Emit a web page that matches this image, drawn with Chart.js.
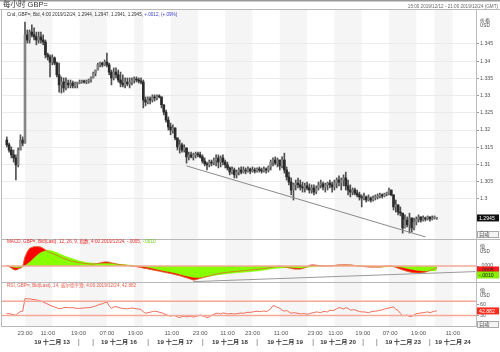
<!DOCTYPE html>
<html><head><meta charset="utf-8">
<script src="https://cdn.jsdelivr.net/npm/chart.js@4.4.1/dist/chart.umd.min.js"></script>
<style>html,body{margin:0;padding:0;background:#fff;overflow:hidden}canvas{display:block}</style>
</head><body>
<canvas id="c" width="500" height="352"></canvas>
<script>
// ---- data (hourly bars, GBP=) ----
const openP = [1.3171,1.3157,1.3142,1.3128,1.3119,1.3099,1.3142,1.3171,1.3162,1.3476,
1.3461,1.3484,1.3476,1.3470,1.3461,1.3470,1.3461,1.3455,1.3418,1.3412,
1.3397,1.3409,1.3394,1.3360,1.3331,1.3339,1.3322,1.3336,1.3331,1.3336,
1.3328,1.3334,1.3336,1.3339,1.3342,1.3339,1.3342,1.3345,1.3351,1.3365,
1.3374,1.3389,1.3394,1.3389,1.3397,1.3389,1.3368,1.3351,1.3368,1.3360,
1.3345,1.3336,1.3331,1.3339,1.3334,1.3339,1.3345,1.3348,1.3345,1.3342,
1.3339,1.3287,1.3281,1.3290,1.3287,1.3296,1.3293,1.3299,1.3296,1.3273,
1.3252,1.3229,1.3209,1.3200,1.3206,1.3177,1.3151,1.3157,1.3142,1.3148,
1.3122,1.3128,1.3122,1.3128,1.3131,1.3128,1.3122,1.3110,1.3102,1.3099,
1.3107,1.3104,1.3113,1.3119,1.3107,1.3119,1.3107,1.3099,1.3090,1.3078,
1.3084,1.3070,1.3078,1.3084,1.3078,1.3084,1.3081,1.3087,1.3081,1.3084,
1.3081,1.3087,1.3084,1.3081,1.3087,1.3084,1.3093,1.3107,1.3113,1.3104,
1.3113,1.3096,1.3113,1.3084,1.3064,1.3049,1.3026,1.3041,1.3046,1.3041,
1.3035,1.3032,1.3038,1.3032,1.3026,1.3032,1.3020,1.3032,1.3041,1.3044,
1.3035,1.3041,1.3046,1.3041,1.3035,1.3046,1.3055,1.3049,1.3055,1.3061,
1.3038,1.3026,1.3020,1.3026,1.3017,1.3012,1.3006,1.3003,1.3006,1.2997,
1.3003,1.2997,1.3003,1.3006,1.3009,1.3012,1.3009,1.3015,1.3017,1.3026,
1.3012,1.2977,1.2983,1.2962,1.2959,1.2916,1.2939,1.2925,1.2945,1.2916,
1.2933,1.2942,1.2948,1.2939,1.2945,1.2942,1.2948,1.2942,1.2945,1.2944];
const highP = [1.3180,1.3162,1.3151,1.3142,1.3128,1.3148,1.3186,1.3180,1.3513,1.3490,
1.3490,1.3505,1.3496,1.3484,1.3484,1.3484,1.3476,1.3461,1.3423,1.3418,
1.3418,1.3412,1.3397,1.3394,1.3354,1.3351,1.3351,1.3345,1.3345,1.3342,
1.3339,1.3339,1.3345,1.3345,1.3345,1.3345,1.3348,1.3354,1.3368,1.3374,
1.3394,1.3397,1.3397,1.3403,1.3423,1.3394,1.3374,1.3380,1.3380,1.3374,
1.3368,1.3360,1.3351,1.3351,1.3351,1.3351,1.3354,1.3354,1.3351,1.3351,
1.3345,1.3296,1.3296,1.3296,1.3302,1.3302,1.3302,1.3302,1.3296,1.3273,
1.3258,1.3238,1.3220,1.3215,1.3206,1.3177,1.3171,1.3162,1.3157,1.3148,
1.3136,1.3136,1.3133,1.3136,1.3136,1.3136,1.3128,1.3119,1.3107,1.3113,
1.3113,1.3119,1.3128,1.3128,1.3125,1.3128,1.3113,1.3107,1.3093,1.3093,
1.3090,1.3084,1.3090,1.3093,1.3093,1.3090,1.3093,1.3090,1.3093,1.3090,
1.3090,1.3093,1.3090,1.3093,1.3090,1.3096,1.3113,1.3119,1.3122,1.3119,
1.3113,1.3122,1.3133,1.3093,1.3078,1.3061,1.3046,1.3055,1.3061,1.3055,
1.3049,1.3046,1.3049,1.3044,1.3041,1.3041,1.3038,1.3049,1.3055,1.3049,
1.3046,1.3049,1.3055,1.3049,1.3055,1.3061,1.3067,1.3061,1.3070,1.3078,
1.3055,1.3041,1.3032,1.3032,1.3026,1.3020,1.3012,1.3017,1.3009,1.3012,
1.3006,1.3009,1.3012,1.3015,1.3017,1.3015,1.3017,1.3020,1.3032,1.3026,
1.3012,1.2997,1.2983,1.2977,1.2959,1.2954,1.2948,1.2959,1.2945,1.2945,
1.2948,1.2954,1.2948,1.2951,1.2948,1.2951,1.2948,1.2951,1.2951,1.2947];
const lowP = [1.3151,1.3136,1.3119,1.3107,1.3055,1.3093,1.3142,1.3154,1.3162,1.3452,
1.3452,1.3470,1.3461,1.3447,1.3452,1.3452,1.3447,1.3409,1.3403,1.3354,
1.3389,1.3389,1.3354,1.3310,1.3307,1.3310,1.3316,1.3322,1.3322,1.3322,
1.3322,1.3322,1.3334,1.3336,1.3336,1.3334,1.3336,1.3339,1.3351,1.3357,
1.3374,1.3383,1.3383,1.3386,1.3383,1.3360,1.3331,1.3345,1.3351,1.3339,
1.3325,1.3325,1.3322,1.3328,1.3322,1.3331,1.3336,1.3339,1.3336,1.3334,
1.3264,1.3270,1.3276,1.3276,1.3281,1.3284,1.3287,1.3293,1.3264,1.3244,
1.3223,1.3200,1.3186,1.3191,1.3171,1.3142,1.3133,1.3136,1.3136,1.3104,
1.3113,1.3119,1.3113,1.3119,1.3122,1.3119,1.3104,1.3096,1.3084,1.3093,
1.3096,1.3099,1.3096,1.3090,1.3093,1.3099,1.3090,1.3084,1.3070,1.3073,
1.3061,1.3061,1.3070,1.3073,1.3075,1.3073,1.3078,1.3073,1.3078,1.3075,
1.3078,1.3078,1.3075,1.3078,1.3075,1.3078,1.3084,1.3096,1.3099,1.3093,
1.3084,1.3090,1.3075,1.3055,1.3041,1.3012,1.2997,1.3026,1.3032,1.3026,
1.3020,1.3020,1.3026,1.3017,1.3017,1.3012,1.3015,1.3026,1.3032,1.3026,
1.3020,1.3026,1.3032,1.3020,1.3026,1.3032,1.3038,1.3026,1.3038,1.3026,
1.3012,1.3006,1.3012,1.3012,1.3006,1.2997,1.2977,1.2997,1.2991,1.2994,
1.2991,1.2994,1.2997,1.3000,1.3003,1.3003,1.3006,1.3009,1.3012,1.3009,
1.2968,1.2962,1.2954,1.2951,1.2901,1.2916,1.2919,1.2901,1.2904,1.2910,
1.2925,1.2933,1.2933,1.2936,1.2936,1.2939,1.2936,1.2939,1.2942,1.2941];
const closeP = [1.3157,1.3142,1.3128,1.3119,1.3099,1.3142,1.3171,1.3162,1.3476,1.3461,
1.3484,1.3476,1.3470,1.3461,1.3470,1.3461,1.3455,1.3418,1.3412,1.3397,
1.3409,1.3394,1.3360,1.3331,1.3339,1.3322,1.3336,1.3331,1.3336,1.3328,
1.3334,1.3336,1.3339,1.3342,1.3339,1.3342,1.3345,1.3351,1.3365,1.3374,
1.3389,1.3394,1.3389,1.3397,1.3389,1.3368,1.3351,1.3368,1.3360,1.3345,
1.3336,1.3331,1.3339,1.3334,1.3339,1.3345,1.3348,1.3345,1.3342,1.3339,
1.3287,1.3281,1.3290,1.3287,1.3296,1.3293,1.3299,1.3296,1.3273,1.3252,
1.3229,1.3209,1.3200,1.3206,1.3177,1.3151,1.3157,1.3142,1.3148,1.3122,
1.3128,1.3122,1.3128,1.3131,1.3128,1.3122,1.3110,1.3102,1.3099,1.3107,
1.3104,1.3113,1.3119,1.3107,1.3119,1.3107,1.3099,1.3090,1.3078,1.3084,
1.3070,1.3078,1.3084,1.3078,1.3084,1.3081,1.3087,1.3081,1.3084,1.3081,
1.3087,1.3084,1.3081,1.3087,1.3084,1.3093,1.3107,1.3113,1.3104,1.3113,
1.3096,1.3113,1.3084,1.3064,1.3049,1.3026,1.3041,1.3046,1.3041,1.3035,
1.3032,1.3038,1.3032,1.3026,1.3032,1.3020,1.3032,1.3041,1.3044,1.3035,
1.3041,1.3046,1.3041,1.3035,1.3046,1.3055,1.3049,1.3055,1.3061,1.3038,
1.3026,1.3020,1.3026,1.3017,1.3012,1.3006,1.3003,1.3006,1.2997,1.3003,
1.2997,1.3003,1.3006,1.3009,1.3012,1.3009,1.3015,1.3017,1.3026,1.3012,
1.2977,1.2983,1.2962,1.2959,1.2916,1.2939,1.2925,1.2945,1.2916,1.2933,
1.2942,1.2948,1.2939,1.2945,1.2942,1.2948,1.2942,1.2945,1.2948,1.2945];
const macdV = [0.00025,-0.00025,-0.001,-0.00175,-0.002,-0.0015,-0.001,-0.00025,0.0045,0.007,
0.00875,0.00925,0.0096,0.00965,0.0096,0.0094,0.00875,0.008,0.00725,0.00665,
0.0062,0.0058,0.00535,0.00485,0.0043,0.00385,0.0034,0.003,0.0026,0.00235,
0.0021,0.00185,0.00165,0.0015,0.00135,0.0012,0.00105,0.001,0.001,0.0011,
0.00125,0.0015,0.0018,0.00195,0.002,0.00185,0.00155,0.0013,0.00105,0.0008,
0.00065,0.0005,0.0004,0.0003,0.0002,0.00005,-0.00015,-0.0003,-0.0005,-0.00075,
-0.001,-0.0012,-0.0014,-0.00165,-0.0019,-0.0021,-0.00235,-0.00255,-0.0028,-0.003,
-0.00325,-0.0035,-0.0037,-0.00395,-0.00425,-0.00455,-0.0048,-0.00515,-0.0055,-0.00585,
-0.0062,-0.0066,-0.007,-0.0068,-0.0065,-0.00615,-0.00585,-0.00555,-0.00525,-0.00495,
-0.00465,-0.00435,-0.0041,-0.00385,-0.0036,-0.00345,-0.0033,-0.00315,-0.003,-0.0029,
-0.0028,-0.00265,-0.00255,-0.00245,-0.00235,-0.0022,-0.0021,-0.002,-0.0019,-0.00175,
-0.00165,-0.00155,-0.0014,-0.00125,-0.0011,-0.00095,-0.00075,-0.0005,-0.0003,-0.00015,
-0.00015,-0.0003,-0.0004,-0.00065,-0.0009,-0.00115,-0.0014,-0.0015,-0.0015,-0.0015,
-0.00125,-0.00085,-0.00025,0.00025,0.0005,0.0005,0.00035,0.00025,0.00025,0.00015,
0.00005,0,0,0.0001,0.00025,0.0004,0.0005,0.0005,0.00055,0.00055,
0.0005,0.0005,0.00035,0.00025,0.0001,0,-0.00015,-0.00025,-0.00035,-0.00045,
-0.0005,-0.0005,-0.0005,-0.0005,-0.0005,-0.0004,-0.00025,-0.0001,0,0,
-0.00025,-0.00065,-0.0011,-0.0015,-0.0019,-0.00225,-0.0026,-0.0029,-0.00315,-0.0033,
-0.0034,-0.00345,-0.0034,-0.0032,-0.003,-0.00265,-0.0022,-0.0018,-0.0014,-0.001];
const signalV = [0.0001,-0.00015,-0.0004,-0.0006,-0.00075,-0.0007,-0.0006,-0.0005,0,0.001,
0.00185,0.00285,0.004,0.005,0.006,0.0067,0.0072,0.0076,0.0079,0.0078,
0.0075,0.0071,0.0067,0.0062,0.0057,0.0052,0.00475,0.00435,0.004,0.0036,
0.0032,0.00285,0.0025,0.00225,0.002,0.0018,0.0016,0.0015,0.0014,0.0013,
0.00125,0.0012,0.0012,0.00125,0.0013,0.0013,0.0012,0.0011,0.001,0.0009,
0.0008,0.00075,0.00065,0.00055,0.00045,0.0003,0.0002,0.0001,0,-0.0001,
-0.00025,-0.00045,-0.00065,-0.00085,-0.0011,-0.0014,-0.00165,-0.0019,-0.00215,-0.00235,
-0.0026,-0.0028,-0.003,-0.00325,-0.0035,-0.00375,-0.0041,-0.0044,-0.0047,-0.00495,
-0.0052,-0.00545,-0.00565,-0.0058,-0.0058,-0.00575,-0.00565,-0.0055,-0.0053,-0.0051,
-0.0049,-0.0047,-0.0045,-0.00435,-0.0042,-0.0041,-0.004,-0.00385,-0.0037,-0.0036,
-0.0035,-0.0034,-0.0033,-0.0032,-0.0031,-0.003,-0.0029,-0.00285,-0.00275,-0.00265,
-0.0025,-0.0024,-0.00225,-0.00205,-0.00185,-0.00165,-0.0015,-0.00135,-0.0012,-0.0011,
-0.001,-0.00095,-0.0009,-0.00085,-0.0008,-0.0008,-0.00085,-0.0009,-0.00095,-0.001,
-0.00095,-0.00085,-0.0007,-0.00055,-0.00045,-0.00035,-0.0003,-0.00025,-0.0002,-0.00015,
-0.0001,-0.00005,0,0.00005,0.0001,0.00015,0.0002,0.00025,0.00025,0.0003,
0.0003,0.0003,0.0003,0.00025,0.0002,0.00015,0.0001,0,-0.00005,-0.0001,
-0.0002,-0.00025,-0.0003,-0.00035,-0.0004,-0.0004,-0.0004,-0.00035,-0.0003,-0.00025,
-0.00025,-0.0003,-0.0004,-0.00055,-0.00075,-0.00095,-0.0012,-0.00145,-0.0017,-0.0019,
-0.0021,-0.00225,-0.00235,-0.00245,-0.0025,-0.0025,-0.0025,-0.00245,-0.0024,-0.0023];
const rsiV = [35,35,34,32,30,37,41,42,78,77,
77,76,75,74,73,70,68,65,62,59,
56,54,52,49,50,52,53,52,52,52,
51,50,50,51,51,52,52,53,55,57,
59,62,63,66,68,57,50,54,55,53,
51,50,49,49,50,51,50,49,48,47,
40,36,38,39,41,42,41,39,38,35,
32,30,28,30,29,26,24,27,28,26,
27,28,25,27,29,31,29,27,24,26,
30,33,36,36,34,37,36,34,35,35,
34,35,36,37,36,38,39,38.5,40,41,
42,41,41,43,41,44,49,58,56,53,
50,45,42,44,40,36,38,37,36,34,
35,35,33,35,37,38,40,39,38,41,
41,40,45,44,45,49,52,51,48,52,
50,45,46,46,43,41,40,40,39,38,
40,42,42,43,45,46,48,50,51,53,
54,48,44,36,29,30,31,27,27,31,
35,36,37,38,39,40,38,40,42,42.882];

// axis / annotation values (bar-index units)
const priceTicks = [1.3,1.305,1.31,1.315,1.32,1.325,1.33,1.335,1.34,1.345];
const macdTicks = [0];
const rsiTicks = [60,30];
const rsiLevels = [70,30];
const timeTickAt = [8,18,31.5,44,56.5,72.5,85,97,108,120.5,135.5,144.5,156.5,168.5,181,196];
const timeTickText = ['23:00','11:00','19:00','07:00','19:00','11:00','23:00','11:00','23:00','11:00','23:00','11:00','19:00','07:00','19:00','11:00'];
const dateLabelAt = [19.9,49.3,73.9,98.1,122.3,145.6,174.2,196.1];
const dateLabelText = ['19 十二月 13','19 十二月 16','19 十二月 17','19 十二月 18','19 十二月 19','19 十二月 20','19 十二月 23','19 十二月 24'];
const dateSepAt = [31.7,37.9,62.1,86.2,110,134.6,156.6,162.7,186];
const shadeBands = [[8,20],[32,44],[56,60],[72,84],[96,108],[120,132],[144,156],[168,180],[188,196]];
const priceTrend = [{x:79,y:1.3096},{x:184,y:1.2890}];
const macdTrend = [{x:82,y:-0.0078},{x:206,y:-0.0028}];
const lastPrice = 1.2945, lastMacd = -0.0005, lastSignal = -0.0010, lastRsi = 42.882;

const FONT = '"Liberation Sans", Arial, "Noto Sans CJK SC", sans-serif';
const ks = closeP.map((_, k) => k);
const pts = arr => ks.map(k => ({x: k, y: arr[k]}));

function txt(ctx, s, x, y, size, color, align, weight) {
  ctx.font = (weight || '') + ' ' + size + 'px ' + FONT;
  ctx.fillStyle = color; ctx.textAlign = align || 'left'; ctx.textBaseline = 'middle';
  ctx.fillText(s, x, y);
  return ctx.measureText(s).width;
}
function tag(ctx, s, y, bg, fg, border) {
  ctx.fillStyle = bg; ctx.fillRect(477, y - 3.5, 22, 7);
  if (border) { ctx.strokeStyle = border; ctx.lineWidth = 1; ctx.strokeRect(477.5, y - 3, 21, 6); }
  txt(ctx, s, 479, y + 0.3, 5.2, fg);
}

const deco = {
  id: 'deco',
  beforeDraw(chart) {
    const {ctx, chartArea: a, scales: {x}} = chart;
    ctx.save();
    ctx.fillStyle = '#fff'; ctx.fillRect(0, 0, chart.width, chart.height);
    ctx.fillStyle = '#f5f5f5';
    shadeBands.forEach(([s, e]) => {
      const x0 = x.getPixelForValue(s), x1 = x.getPixelForValue(e);
      ctx.fillRect(x0, a.top, x1 - x0, a.bottom - a.top);
    });
    ctx.restore();
  },
  afterDatasetsDraw(chart) {
    const {ctx, chartArea: a, scales: {yM, yR}} = chart;
    ctx.save();
    ctx.strokeStyle = '#f5a898'; ctx.lineWidth = 1.5;
    const y0 = yM.getPixelForValue(0);
    ctx.beginPath(); ctx.moveTo(a.left, y0); ctx.lineTo(a.right, y0); ctx.stroke();
    rsiLevels.forEach(v => {
      const y = yR.getPixelForValue(v);
      ctx.beginPath(); ctx.moveTo(a.left, y); ctx.lineTo(a.right, y); ctx.stroke();
    });
    ctx.restore();
  },
  afterDraw(chart) {
    const {ctx, chartArea: a, scales: {x, yP, yM, yR}} = chart;
    ctx.save();
    // frame
    ctx.strokeStyle = '#b8b8b8'; ctx.lineWidth = 1;
    ctx.beginPath();
    ctx.moveTo(0, 9.5); ctx.lineTo(500, 9.5);
    ctx.moveTo(1.5, 9.5); ctx.lineTo(1.5, a.bottom + 0.5);
    ctx.moveTo(1, a.bottom + 0.5); ctx.lineTo(a.right, a.bottom + 0.5);
    ctx.moveTo(1, Math.round(yP.bottom) + 0.5); ctx.lineTo(500, Math.round(yP.bottom) + 0.5);
    ctx.moveTo(1, Math.round(yM.bottom) + 0.5); ctx.lineTo(500, Math.round(yM.bottom) + 0.5);
    ctx.stroke();
    ctx.strokeStyle = '#999'; ctx.lineWidth = 1.5;
    ctx.beginPath(); ctx.moveTo(0, 0.75); ctx.lineTo(500, 0.75); ctx.stroke();

    // titles
    txt(ctx, '每小时 GBP=', 3, 5, 7.5, '#333');
    txt(ctx, '15:00 2019/12/12 - 21:00 2019/12/24 (GMT)', 498, 7, 4.6, '#666', 'right');
    let w = txt(ctx, 'Cnd, GBP=, Bid, 4:00 2019/12/24, 1.2944, 1.2947, 1.2941, 1.2945, ', 7, 14.5, 4.6, '#333');
    txt(ctx, '+.0012, (+.09%)', 7 + w, 14.5, 4.6, '#3a3ad0');
    w = txt(ctx, 'MACD, GBP=, Bid(Last), 12, 26, 9, 指数, 4:00 2019/12/24, -.0005, ', 7, yP.bottom + 3, 4.6, '#ee2a2a');
    txt(ctx, '-.0010', 7 + w, yP.bottom + 3, 4.6, '#66cc00');
    txt(ctx, 'RSI, GBP=, Bid(Last), 14, 威尔德平滑, 4:00 2019/12/24, 42.882', 7, yM.bottom + 3.5, 4.6, '#ee5a4a');

    // right axis captions & tags
    txt(ctx, '价格', 480, 20.5, 5, '#444');
    txt(ctx, 'USD', 480, 25.5, 4.6, '#444');
    tag(ctx, String(lastPrice), yP.getPixelForValue(lastPrice), '#111', '#fff');
    tag(ctx, '自动', yP.bottom - 4.5, '#f4f4f4', '#444', '#aaa');
    txt(ctx, '值', 480, yM.top + 7.5, 5, '#444');
    txt(ctx, 'USD', 480, yM.top + 12.5, 4.6, '#444');
    tag(ctx, String(lastMacd).replace('0.', '.'), yM.getPixelForValue(0) + 4, '#ff1a1a', '#222');
    tag(ctx, String(lastSignal.toFixed(4)).replace('0.', '.'), yM.getPixelForValue(0) + 9, '#88ee00', '#222');
    txt(ctx, '值', 480, yR.top + 9, 5, '#444');
    txt(ctx, 'USD', 480, yR.top + 14, 4.6, '#444');
    tag(ctx, String(lastRsi), yR.getPixelForValue(lastRsi), '#ff2a1a', '#fff');
    tag(ctx, '自动', yR.bottom - 1.5, '#f4f4f4', '#444', '#aaa');

    // date row
    dateLabelText.forEach((s, i) => txt(ctx, s, x.getPixelForValue(dateLabelAt[i]), 342, 6.2, '#333', 'center', 'bold'));
    dateSepAt.forEach(v => txt(ctx, '|', x.getPixelForValue(v), 342, 6.5, '#555', 'center'));
    ctx.restore();
  }
};

const yCommon = (ticks, fmt, grid) => ({
  position: 'right', stack: 'panes', offset: false,
  afterBuildTicks: s => { s.ticks = ticks.map(v => ({value: v})); },
  afterFit: s => { s.width = 24; },
  border: {display: true, color: '#bdbdbd'},
  grid: Object.assign({tickLength: 3, tickColor: '#999', drawTicks: true}, grid),
  ticks: {autoSkip: false, padding: 1, color: '#555', font: {size: 5.3, family: FONT}, callback: fmt}
});

new Chart(document.getElementById('c'), {
  type: 'bar',
  data: {datasets: [
    {type: 'line', label: 'Trend', data: priceTrend, yAxisID: 'yP', borderColor: '#8a8a8a', borderWidth: 1, pointRadius: 0, order: 0},
    {label: 'Body', data: ks.map(k => ({x: k, y: [Math.min(openP[k], closeP[k]), Math.max(openP[k], closeP[k])]})),
      yAxisID: 'yP', barThickness: 2, grouped: false, minBarLength: 1,
      backgroundColor: ks.map(k => closeP[k] >= openP[k] ? '#858585' : '#2a2a2a'), order: 1},
    {label: 'Wick', data: ks.map(k => ({x: k, y: [lowP[k], highP[k]]})), yAxisID: 'yP', barThickness: 1, grouped: false,
      backgroundColor: '#505050', order: 2},
    {type: 'line', label: 'MACD trend', data: macdTrend, yAxisID: 'yM', borderColor: '#9a9a9a', borderWidth: 1, pointRadius: 0, order: 3},
    {type: 'line', label: 'MACD line', data: pts(macdV), yAxisID: 'yM', borderColor: '#d8682a', borderWidth: 0.8, pointRadius: 0, fill: false, order: 4},
    {type: 'line', label: 'Signal', data: pts(signalV), yAxisID: 'yM', borderColor: '#88ff00', borderWidth: 0.5, backgroundColor: '#88ff00', fill: 'origin', pointRadius: 0, order: 5},
    {type: 'line', label: 'MACD', data: pts(macdV), yAxisID: 'yM', borderColor: '#ff0000', borderWidth: 0.5, backgroundColor: '#ff0000', fill: 'origin', pointRadius: 0, order: 6},
    {type: 'line', label: 'RSI', data: pts(rsiV), yAxisID: 'yR', borderColor: '#f26a58', borderWidth: 1, pointRadius: 0, order: 7}
  ]},
  options: {
    responsive: false, animation: false, devicePixelRatio: 1,
    layout: {padding: {left: 2, right: 0, top: 10, bottom: 0}},
    plugins: {legend: {display: false}, tooltip: {enabled: false}},
    scales: {
      x: {type: 'linear', min: -2.11, max: 206.24, offset: false,
        grid: {display: false, drawTicks: false}, border: {display: false},
        afterBuildTicks: s => { s.ticks = timeTickAt.map(v => ({value: v})); },
        afterFit: s => { s.height = 26; },
        ticks: {autoSkip: false, maxRotation: 0, padding: 4, color: '#555', font: {size: 6, family: FONT},
          callback: (v, i) => timeTickText[i]}},
      yP: Object.assign(yCommon(priceTicks, v => String(+v.toFixed(3)), {color: '#ebebeb'}),
        {stackWeight: 229, min: 1.2884, max: 1.3548}),
      yM: Object.assign(yCommon(macdTicks, () => '.0000', {drawOnChartArea: false}),
        {stackWeight: 43, min: -0.008, max: 0.0135}),
      yR: Object.assign(yCommon(rsiTicks, v => String(v), {drawOnChartArea: false}),
        {stackWeight: 44, min: 0, max: 125})
    }
  },
  plugins: [deco]
});
</script>
</body></html>
